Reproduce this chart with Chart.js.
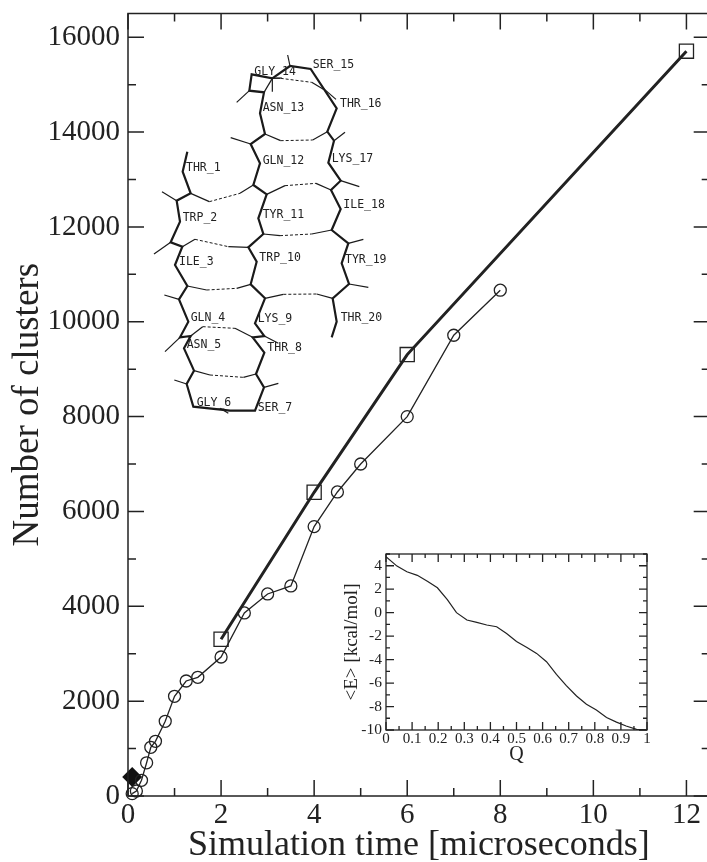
<!DOCTYPE html>
<html>
<head>
<meta charset="utf-8">
<title>Number of clusters</title>
<script src="https://cdn.jsdelivr.net/npm/chart.js@4/dist/chart.umd.js"></script>
<style>
  html, body { margin: 0; padding: 0; background: #fff; overflow: hidden; width: 707px; height: 862px; }
  canvas { position: absolute; }
  #mainChart { left: 0; top: 0; }
  #moleculeChart { left: 130px; top: 40px; }
  #insetChart { left: 340px; top: 540px; }
</style>
</head>
<body>
<canvas id="mainChart" width="721" height="867"></canvas>
<canvas id="moleculeChart" width="270" height="400"></canvas>
<canvas id="insetChart" width="330" height="227"></canvas>
<script>
const xTickValues = [0, 2, 4, 6, 8, 10, 12];
const yTickValues = [0, 2000, 4000, 6000, 8000, 10000, 12000, 14000, 16000];
const insetXTickValues = [0, 0.1, 0.2, 0.3, 0.4, 0.5, 0.6, 0.7, 0.8, 0.9, 1];
const insetYTickValues = [-10, -8, -6, -4, -2, 0, 2, 4];

// circles, thin line
const timeShort = [0.09, 0.18, 0.29, 0.4, 0.49, 0.59, 0.8, 1, 1.25, 1.5, 2, 2.5, 3, 3.5, 4, 4.5, 5, 6, 7, 8];
const clustersShort = [50, 105, 331, 700, 1027, 1153, 1575, 2102, 2425, 2503, 2931, 3860, 4260, 4429, 5681, 6411, 7001, 8000, 9715, 10665];

// squares, thick line
const timeLong = [2, 4, 6, 12];
const clustersLong = [3305, 6404, 9308, 15705];

// the black diamond
const timeDiamond = [0.09];
const clustersDiamond = [400];

// inset: energy against Q
const insetQ = [0, 0.042, 0.08, 0.12, 0.16, 0.197, 0.235, 0.27, 0.31, 0.348, 0.386, 0.424, 0.462, 0.5, 0.54, 0.577, 0.615, 0.653, 0.69, 0.73, 0.768, 0.806, 0.845, 0.883, 0.92, 0.96, 1];
const insetEnergy = [4.77, 3.97, 3.49, 3.18, 2.66, 2.12, 1.11, 0, -0.63, -0.83, -1.05, -1.2, -1.77, -2.45, -2.96, -3.47, -4.18, -5.26, -6.2, -7.1, -7.8, -8.3, -8.93, -9.33, -9.66, -9.95, -10];

// the peptide sketch, in its own units (0-810 across, 0-1200 down)
const backbone = [[172,335],[158,395],[182,460],[140,482],[150,545],[125,600],[122,607],[157,620],[135,675],[172,738],[147,778],[175,845],[150,892],[182,888],[162,925],[192,992],[170,1032],[190,1100],[300,1112],[375,1112],[402,1042],[378,1002],[403,938],[368,892],[403,888],[375,850],[405,775],[362,733],[380,665],[355,622],[400,582],[385,535],[410,463],[370,435],[390,370],[362,312],[405,282],[390,220],[402,157],[358,152],[365,103],[427,115],[480,78],[542,87],[620,205],[592,275],[612,302],[595,368],[632,422],[603,450],[632,507],[605,570],[655,610],[635,670],[657,732],[608,775],[620,845],[605,892]];
const sideChains = [
  [[140,482],[96,455]], [[122,607],[72,642]], [[147,778],[103,765]], [[150,892],[105,935]],
  [[170,1032],[133,1020]], [[270,1105],[295,1120]], [[402,1042],[445,1030]], [[403,888],[445,910]],
  [[362,312],[302,293]], [[358,152],[320,187]], [[427,115],[427,155]], [[402,157],[427,115]], [[480,78],[473,45]],
  [[580,145],[618,178]], [[612,302],[645,277]], [[632,422],[688,440]], [[655,610],[700,598]], [[657,732],[715,742]]
];
const hBonds = [
  [[182,460],[238,485],[330,460],[370,435]],
  [[410,463],[465,437],[558,430],[603,450]],
  [[405,282],[452,302],[548,300],[592,275]],
  [[427,115],[452,115],[545,127],[580,148]],
  [[400,582],[450,587],[545,582],[605,570]],
  [[157,620],[195,598],[295,620],[355,622]],
  [[172,738],[230,750],[320,745],[362,733]],
  [[405,775],[460,763],[560,762],[608,775]],
  [[182,888],[218,860],[315,865],[368,892]],
  [[192,992],[240,1005],[340,1012],[378,1002]]
];
const residueNames = ['THR_1','TRP_2','ILE_3','GLN_4','ASN_5','GLY_6','SER_7','THR_8','LYS_9','TRP_10','TYR_11','GLN_12','ASN_13','GLY_14','SER_15','THR_16','LYS_17','ILE_18','TYR_19','THR_20'];
const residueX = [168,158,147,182,170,200,383,412,383,388,398,398,398,373,548,630,605,640,645,632];
const residueY = [385,533,665,835,915,1090,1103,925,837,655,525,362,205,95,76,192,357,495,660,835];

const ink = '#222';
const serif = '"Liberation Serif", "Times New Roman", serif';

function pairs(list) {
  return list.map(p => ({ x: p[0], y: p[1] }));
}

function zip(xs, ys) {
  return xs.map((x, i) => ({ x: x, y: ys[i] }));
}

// stepSize gets rounded when the axis range isn't a whole number of steps, so set the ticks by hand
function fixedTicks(values) {
  return scale => { scale.ticks = values.map(v => ({ value: v })); };
}

// pin the axis size and stop it pushing the plot area in for its end labels
function fitAxis(size) {
  return scale => {
    if (scale.isHorizontal()) {
      scale.height = size;
      scale.paddingLeft = 0;
      scale.paddingRight = 0;
    } else {
      scale.width = size;
      scale.paddingTop = 0;
      scale.paddingBottom = 0;
    }
  };
}

// xmgrace style box: inward ticks on all four sides, major and minor
function boxPlugin(xStep, yStep, majorLen, minorLen, width) {
  return {
    id: 'box',
    afterDatasetsDraw(chart) {
      const c = chart.ctx;
      const a = chart.chartArea;
      const sx = chart.scales.x;
      const sy = chart.scales.y;
      c.save();
      c.strokeStyle = ink;
      c.lineWidth = width;
      c.strokeRect(a.left, a.top, a.right - a.left, a.bottom - a.top);
      c.beginPath();
      const nx = Math.floor((sx.max - sx.min) / xStep + 1e-6);
      for (let i = 0; i <= nx; i++) {
        const px = sx.getPixelForValue(sx.min + i * xStep);
        const len = i % 2 === 0 ? majorLen : minorLen;
        c.moveTo(px, a.bottom); c.lineTo(px, a.bottom - len);
        c.moveTo(px, a.top); c.lineTo(px, a.top + len);
      }
      const ny = Math.floor((sy.max - sy.min) / yStep + 1e-6);
      for (let i = 0; i <= ny; i++) {
        const py = sy.getPixelForValue(sy.min + i * yStep);
        const len = i % 2 === 0 ? majorLen : minorLen;
        c.moveTo(a.left, py); c.lineTo(a.left + len, py);
        c.moveTo(a.right, py); c.lineTo(a.right - len, py);
      }
      c.stroke();
      c.restore();
    }
  };
}

new Chart(document.getElementById('mainChart'), {
  type: 'scatter',
  data: {
    datasets: [
      {
        data: zip(timeShort, clustersShort),
        showLine: true,
        clip: false,
        borderColor: ink,
        borderWidth: 1.3,
        tension: 0,
        pointStyle: 'circle',
        pointRadius: 6,
        pointBorderWidth: 1.3,
        pointBorderColor: ink,
        pointBackgroundColor: 'transparent'
      },
      {
        data: zip(timeLong, clustersLong),
        showLine: true,
        clip: false,
        borderColor: ink,
        borderWidth: 3,
        tension: 0,
        pointStyle: 'rect',
        pointRadius: 10,
        pointBorderWidth: 1.3,
        pointBorderColor: ink,
        pointBackgroundColor: 'transparent'
      },
      {
        data: zip(timeDiamond, clustersDiamond),
        clip: false,
        pointStyle: 'rectRot',
        pointRadius: 10,
        pointBorderWidth: 0,
        pointBackgroundColor: '#111'
      }
    ]
  },
  options: {
    responsive: false,
    animation: false,
    layout: { padding: { top: 13.5, right: 10, left: 0, bottom: 0 } },
    plugins: { legend: { display: false }, tooltip: { enabled: false } },
    scales: {
      x: {
        type: 'linear',
        min: 0,
        max: 12.5,
        grid: { display: false, drawTicks: false },
        border: { display: false },
        afterBuildTicks: fixedTicks(xTickValues),
        ticks: {
          autoSkip: false,
          maxRotation: 0,
          padding: 2,
          color: ink,
          font: { family: serif, size: 29 },
          callback: v => String(v)
        },
        title: {
          display: true,
          text: 'Simulation time [microseconds]',
          color: ink,
          font: { family: serif, size: 36 },
          padding: { top: 0, bottom: 0 }
        },
        afterFit: fitAxis(71)
      },
      y: {
        type: 'linear',
        min: 0,
        max: 16500,
        grid: { display: false, drawTicks: false },
        border: { display: false },
        afterBuildTicks: fixedTicks(yTickValues),
        ticks: {
          autoSkip: false,
          padding: 8,
          color: ink,
          font: { family: serif, size: 29 },
          callback: v => String(v)
        },
        title: {
          display: true,
          text: 'Number of clusters',
          color: ink,
          font: { family: serif, size: 37 },
          padding: { top: 6, bottom: 0 }
        },
        afterFit: fitAxis(128)
      }
    }
  },
  plugins: [boxPlugin(1, 1000, 16, 8, 1.5)]
});

// peptide sketch goes on its own chart with hidden axes
const moleculeSets = [{ data: pairs(backbone), borderWidth: 2.2 }];
sideChains.forEach(s => moleculeSets.push({ data: pairs(s), borderWidth: 1.2 }));
hBonds.forEach(b => {
  moleculeSets.push({ data: pairs(b.slice(0, 2)), borderWidth: 1.2 });
  moleculeSets.push({ data: pairs(b.slice(1, 3)), borderWidth: 1, borderDash: [3, 2] });
  moleculeSets.push({ data: pairs(b.slice(2)), borderWidth: 1.2 });
});
moleculeSets.forEach(d => {
  d.showLine = true;
  d.borderColor = '#1a1a1a';
  d.pointRadius = 0;
  d.tension = 0;
});

new Chart(document.getElementById('moleculeChart'), {
  type: 'scatter',
  data: { datasets: moleculeSets },
  options: {
    responsive: false,
    animation: false,
    plugins: { legend: { display: false }, tooltip: { enabled: false } },
    scales: {
      x: { type: 'linear', display: false, min: 0, max: 810 },
      y: { type: 'linear', display: false, min: 0, max: 1200, reverse: true }
    }
  },
  plugins: [{
    id: 'residueLabels',
    afterDatasetsDraw(chart) {
      const c = chart.ctx;
      c.save();
      c.fillStyle = ink;
      c.font = '11.5px "DejaVu Sans Mono", monospace';
      c.textAlign = 'left';
      c.textBaseline = 'middle';
      residueNames.forEach((name, i) => {
        c.fillText(name, chart.scales.x.getPixelForValue(residueX[i]), chart.scales.y.getPixelForValue(residueY[i]));
      });
      c.restore();
    }
  }]
});

new Chart(document.getElementById('insetChart'), {
  type: 'line',
  data: {
    datasets: [{
      data: zip(insetQ, insetEnergy),
      borderColor: ink,
      borderWidth: 1.2,
      pointRadius: 0,
      tension: 0
    }]
  },
  options: {
    responsive: false,
    animation: false,
    layout: { padding: { top: 14, right: 23, left: 0, bottom: 0 } },
    plugins: { legend: { display: false }, tooltip: { enabled: false } },
    scales: {
      x: {
        type: 'linear',
        min: 0,
        max: 1,
        grid: { display: false, drawTicks: false },
        border: { display: false },
        afterBuildTicks: fixedTicks(insetXTickValues),
        ticks: {
          autoSkip: false,
          maxRotation: 0,
          padding: 0,
          color: ink,
          font: { family: serif, size: 15 },
          callback: v => String(Number(v.toFixed(1)))
        },
        title: {
          display: true,
          text: 'Q',
          color: ink,
          font: { family: serif, size: 20 },
          padding: { top: 0, bottom: 0 }
        },
        afterFit: fitAxis(37)
      },
      y: {
        type: 'linear',
        min: -10,
        max: 5,
        grid: { display: false, drawTicks: false },
        border: { display: false },
        afterBuildTicks: fixedTicks(insetYTickValues),
        ticks: {
          autoSkip: false,
          padding: 4,
          color: ink,
          font: { family: serif, size: 15.5 },
          callback: v => String(v)
        },
        title: {
          display: true,
          text: '<E> [kcal/mol]',
          color: ink,
          font: { family: serif, size: 19 },
          padding: { top: 1, bottom: 0 }
        },
        afterFit: fitAxis(46)
      }
    }
  },
  plugins: [boxPlugin(0.05, 1, 8, 4, 1.3)]
});
</script>
</body>
</html>
